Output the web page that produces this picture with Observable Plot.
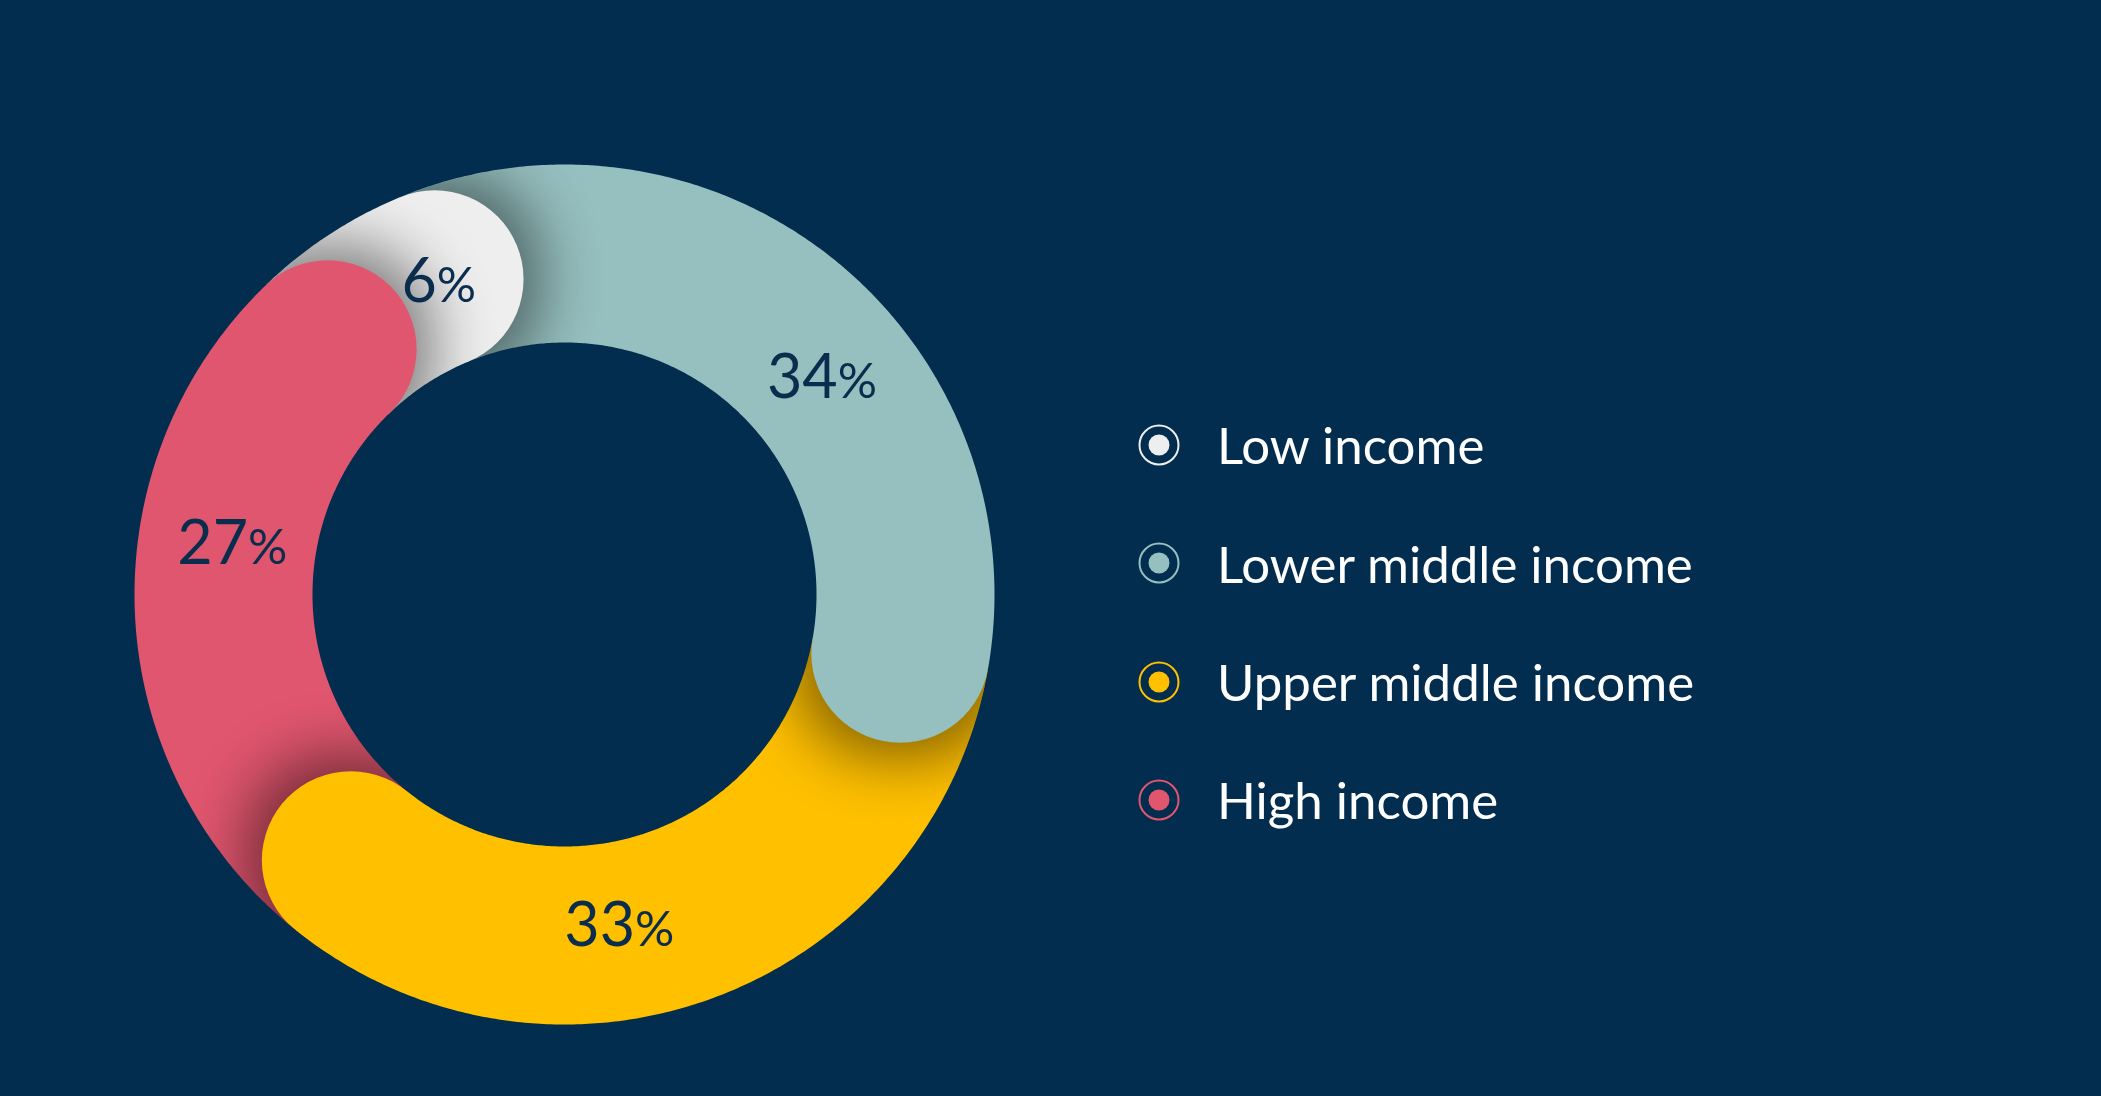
<!DOCTYPE html>
<html>
<head>
<meta charset="utf-8">
<script src="https://cdn.jsdelivr.net/npm/d3@7"></script>
<script src="https://cdn.jsdelivr.net/npm/@observablehq/plot@0.6"></script>
<style>
  html, body { margin: 0; padding: 0; background: #022d4e; overflow: hidden; }
  #page { position: relative; width: 2101px; height: 1096px; background: #022d4e; }
  #chart { position: absolute; left: 0; top: 0; }
  #legend { position: absolute; left: 1138px; top: 385.8px; font-family: Lato, "Open Sans", sans-serif; }
  .row { display: flex; align-items: center; height: 118.3px; }
  .row svg { display: block; flex: none; }
  .row span { margin-left: 37px; font-size: 51px; font-weight: 400; color: #ffffff; line-height: 1; white-space: nowrap; }
</style>
</head>
<body>
<div id="page">
  <div id="chart"></div>
  <div id="legend"></div>
</div>
<script>
// ---------- data ----------
const categories = ["Low income", "Lower middle income", "Upper middle income", "High income"];
const shares = [6, 34, 33, 27];
const colors = ["#eeeeee", "#96bfbf", "#ffc000", "#e0566e"];
// clockwise drawing order around the ring, starting near 12 o'clock
const ringOrder = [1, 2, 3, 0];

// ---------- layout ----------
const H = 1096, plotWidth = 1130;
const cx = 564, cy = 594, rOuter = 430, rInner = 252;
const rMid = (rOuter + rInner) / 2, band = rOuter - rInner;
const startDeg = -22.4;                       // clockwise from 12 o'clock
const capDeg = (band / 2) / rMid * 180 / Math.PI;
const labelColor = "#0b2d4d";

const rad = d => d * Math.PI / 180;
const pt = (deg, r) => ({x: cx + r * Math.sin(rad(deg)), y: cy - r * Math.cos(rad(deg))});

let acc = startDeg;
const segs = ringOrder.map(i => {
  const a0 = acc, a1 = acc + shares[i] / 100 * 360;
  acc = a1;
  return {cat: categories[i], share: shares[i], a0, a1};
});

const arcPts = segs.flatMap(s => {
  const n = Math.ceil((s.a1 - s.a0) / 0.5);
  return d3.range(n + 1).map(k => ({cat: s.cat, ...pt(s.a0 + (s.a1 - s.a0) * k / n, rMid)}));
});
// rounded ends, drawn in reverse ring order so each end (and its shadow) lies over the following piece
const capSegs = segs.slice().reverse();
const caps = capSegs.map(s => ({cat: s.cat, ...pt(s.a1, rMid)}));
const labelPts = segs.map(s => ({
  text: `${s.share}%`,
  ...pt((s.a0 + s.a1) / 2 + capDeg * 0.75, rMid - 5)
}));

const plot = Plot.plot({
  width: plotWidth,
  height: H,
  margin: 0,
  x: {domain: [0, plotWidth], range: [0, plotWidth], axis: null},
  y: {domain: [0, H], range: [0, H], axis: null},
  color: {domain: categories, range: colors},
  style: {background: "transparent", overflow: "visible"},
  marks: [
    Plot.line(arcPts, {x: "x", y: "y", z: "cat", stroke: "cat", strokeWidth: band, strokeLinecap: "butt", strokeLinejoin: "round"}),
    Plot.dot(caps, {x: "x", y: "y", r: band / 2, fill: "cat", stroke: null}),
    Plot.text(labelPts, {x: "x", y: "y", text: "text", fill: labelColor, fontSize: 61, fontFamily: "Lato", fontWeight: 400, textAnchor: "middle", lineAnchor: "middle"})
  ]
});

// ---------- soft shadows under the rounded ends ----------
const ns = "http://www.w3.org/2000/svg";
const defs = document.createElementNS(ns, "defs");
defs.innerHTML = `<filter id="capShadow" x="-100%" y="-100%" width="300%" height="300%" color-interpolation-filters="sRGB">
  <feMorphology in="SourceAlpha" operator="dilate" radius="16" result="d"/>
  <feGaussianBlur in="d" stdDeviation="30" result="b"/>
  <feFlood flood-color="#000" flood-opacity="0.48"/>
  <feComposite in2="b" operator="in" result="s"/>
  <feMerge><feMergeNode in="s"/><feMergeNode in="SourceGraphic"/></feMerge>
</filter>`;
plot.appendChild(defs);
const X = plot.scale("x"), Y = plot.scale("y");
const circles = plot.querySelectorAll('g[aria-label="dot"] circle');
capSegs.forEach((s, k) => {
  const cp = document.createElementNS(ns, "clipPath");
  cp.setAttribute("id", "capClip" + k);
  const p = document.createElementNS(ns, "path");
  p.setAttribute("d", d3.arc()({innerRadius: rInner, outerRadius: rOuter, startAngle: rad(s.a1 - 0.6), endAngle: rad(s.a1 + 80)}));
  p.setAttribute("transform", `translate(${X.apply(cx)},${Y.apply(cy)})`);
  cp.appendChild(p);
  defs.appendChild(cp);
  if (circles[k]) {
    circles[k].setAttribute("filter", "url(#capShadow)");
    circles[k].setAttribute("clip-path", `url(#capClip${k})`);
  }
});
// smaller percent sign
plot.querySelectorAll('g[aria-label="text"] text').forEach(t => {
  const s = t.textContent;
  if (s.endsWith("%")) {
    t.textContent = "";
    const a = document.createElementNS(ns, "tspan"); a.textContent = s.slice(0, -1);
    const b = document.createElementNS(ns, "tspan"); b.textContent = "%"; b.setAttribute("font-size", "49");
    t.appendChild(a); t.appendChild(b);
  }
});
document.getElementById("chart").appendChild(plot);

// ---------- legend ----------
const legend = d3.select("#legend");
categories.forEach((c, i) => {
  const row = legend.append("div").attr("class", "row");
  const m = row.append("svg").attr("width", 42).attr("height", 42);
  m.append("circle").attr("cx", 21).attr("cy", 21).attr("r", 19.5).attr("fill", "none").attr("stroke", colors[i]).attr("stroke-width", 2);
  m.append("circle").attr("cx", 21).attr("cy", 21).attr("r", 10.5).attr("fill", colors[i]);
  row.append("span").text(c);
});
</script>
</body>
</html>
